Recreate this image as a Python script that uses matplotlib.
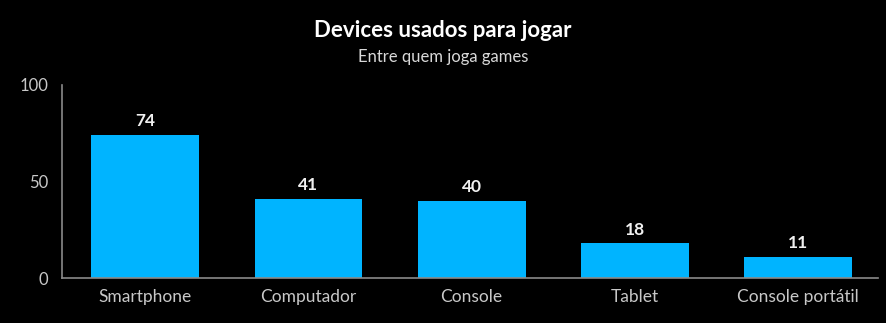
import matplotlib
matplotlib.use("Agg")
import matplotlib.pyplot as plt

categories = ["Smartphone", "Computador", "Console", "Tablet", "Console portátil"]
values = [74, 41, 40, 18, 11]
yticks = [0, 50, 100]

plt.rcParams['font.family'] = ['Lato', 'DejaVu Sans']

fig = plt.figure(figsize=(8.86, 3.23), dpi=100, facecolor="black")
ax = fig.add_axes([0.070, 0.139, 0.921, 0.598], facecolor="black")

x = range(len(categories))
bars = ax.bar(x, values, width=0.66, color="#00b4ff")
for xi, v in zip(x, values):
    ax.text(xi, v + 3, str(v), ha="center", va="bottom", color="#f0f0f0",
            fontsize=12.5, fontweight="bold")

ax.set_xlim(-0.51, 4.49)
ax.set_ylim(0, 100)
ax.set_xticks(list(x))
ax.set_xticklabels(categories, fontsize=12.5, color="#c8c8c8")
ax.set_yticks(yticks)
ax.set_yticklabels([str(t) for t in yticks], fontsize=12, color="#c8c8c8")
ax.tick_params(axis="x", length=0, pad=8)
ax.tick_params(axis="y", length=0, pad=10)
for s in ["top", "right"]:
    ax.spines[s].set_visible(False)
for s in ["left", "bottom"]:
    ax.spines[s].set_color("#8a8a8a")
    ax.spines[s].set_linewidth(1.2)

fig.text(0.50, 0.905, "Devices usados para jogar", ha="center", va="center",
         color="white", fontsize=16, fontweight="bold")
fig.text(0.50, 0.822, "Entre quem joga games", ha="center", va="center",
         color="#d8d8d8", fontsize=12)

fig.savefig("out.png", dpi=100, facecolor="black")
